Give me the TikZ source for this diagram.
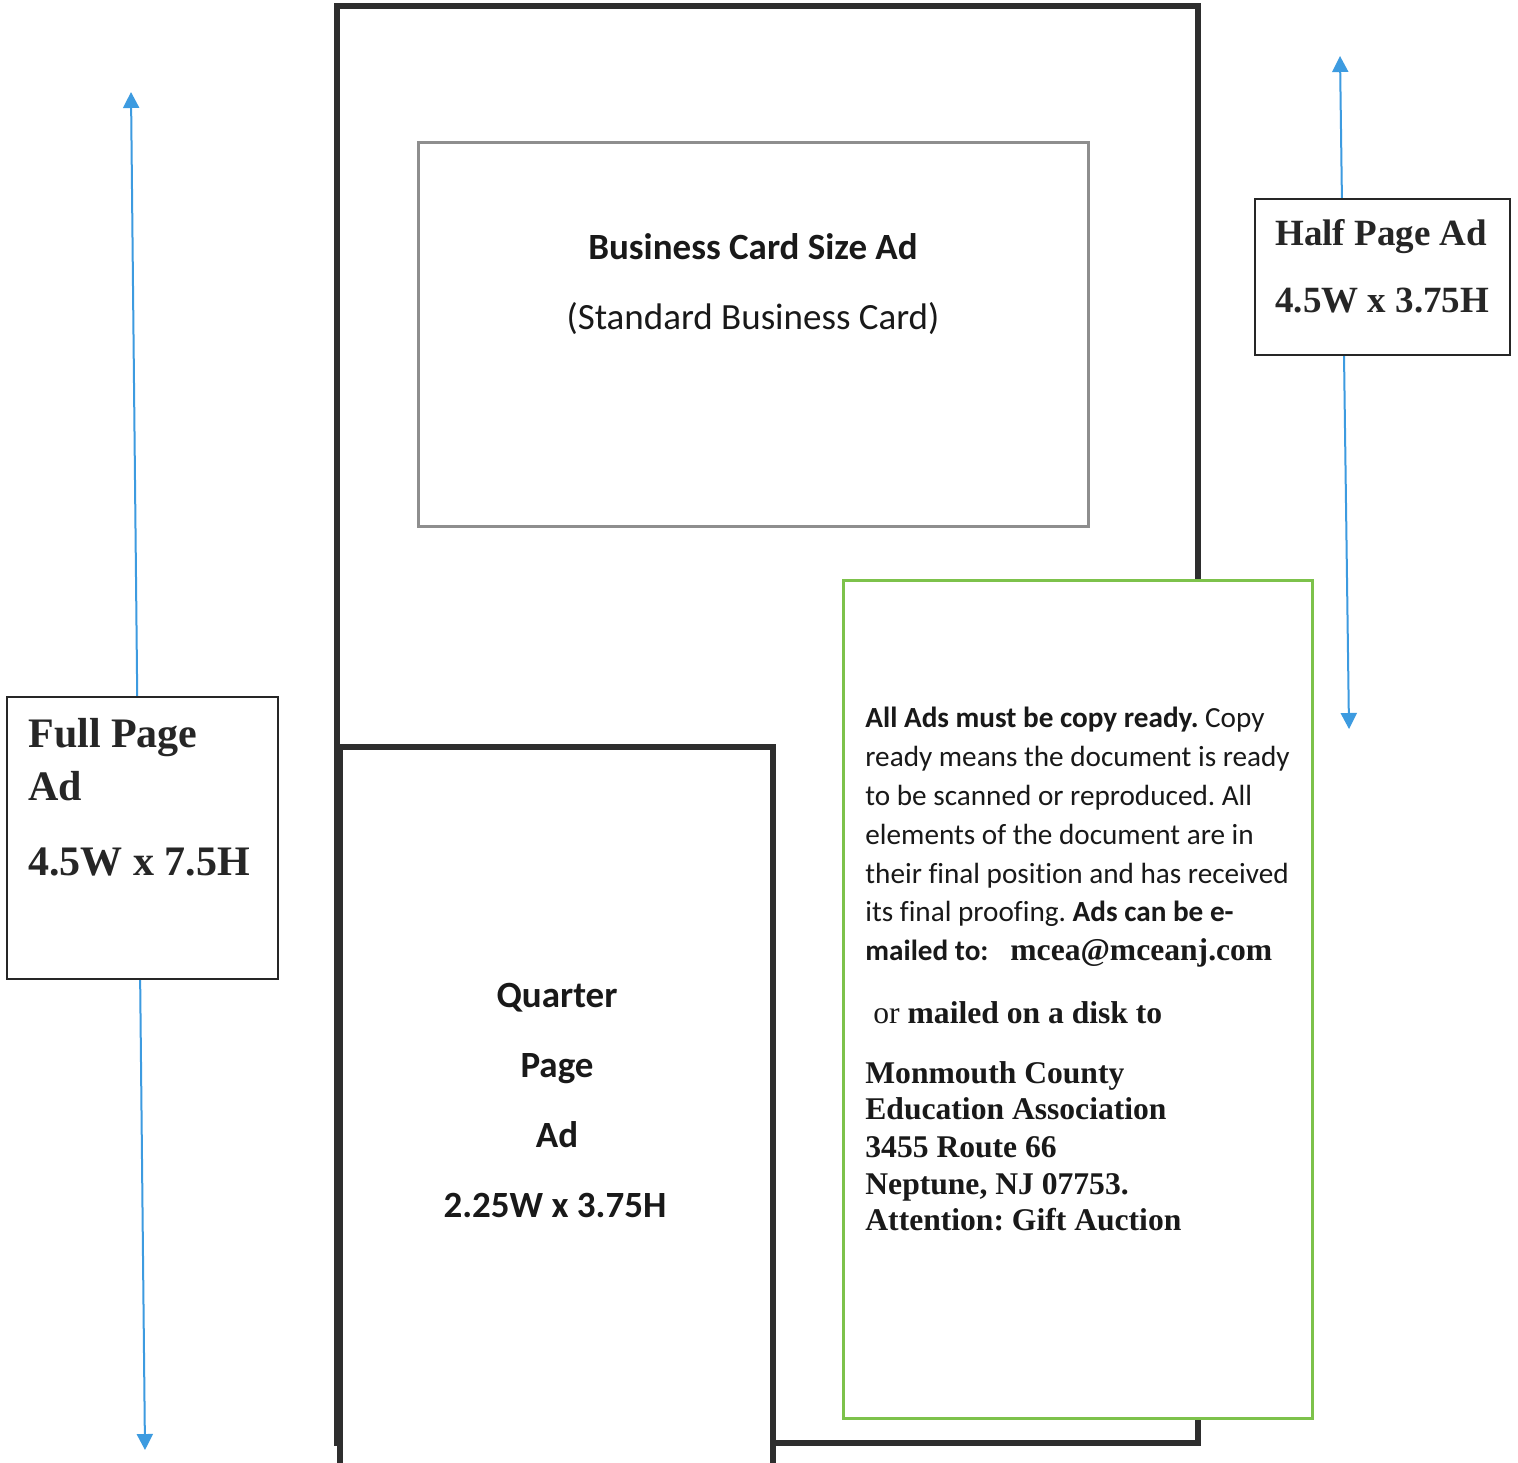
\documentclass[tikz,border=0pt]{standalone}
\usepackage{fontspec}
\setmainfont{Liberation Serif}
\newfontfamily\calfont[Ligatures=NoCommon]{Carlito}
\usetikzlibrary{arrows.meta}
\definecolor{frame}{HTML}{2E2E2E}
\definecolor{cardgray}{HTML}{8E8E8E}
\definecolor{adgreen}{HTML}{7DC24B}
\definecolor{arrowblue}{HTML}{3D9BE0}
\frenchspacing
\tikzset{
  dimarrow/.style={draw=arrowblue, line width=1pt, {Triangle[length=8pt,width=8pt]}-{Triangle[length=8pt,width=8pt]}},
  labelbox/.style={draw=black!85, line width=1.1pt, fill=white},
  serifbig/.style={font=\bfseries\fontsize{21}{25}\selectfont, text=black!85, inner sep=0pt, anchor=base west},
  serifmid/.style={font=\bfseries\fontsize{18.5}{22}\selectfont, text=black!85, inner sep=0pt, anchor=base west},
  calbig/.style={font=\calfont\fontsize{18.5}{22}\selectfont, text=black!90, inner sep=0pt, anchor=base},
  calsmall/.style={font=\calfont\fontsize{14.6}{18}\selectfont, text=black!90, inner sep=0pt, anchor=base west},
  addr/.style={font=\bfseries\fontsize{15.8}{18}\selectfont, text=black!90, inner sep=0pt, anchor=base west}
}
\begin{document}
\begin{tikzpicture}[x=0.5pt,y=-0.5pt]
\useasboundingbox (0,0) rectangle (1518,1462);
\clip (0,0) rectangle (1518,1462);
\fill[white] (0,0) rectangle (1518,1462);
% full page outline
\draw[draw=frame, line width=3pt] (337,6) rectangle (1198,1443);
% business card box
\draw[draw=cardgray, line width=1.5pt] (418,142) rectangle (1088,526);
\node[calbig] (bc1) at (753,259) {\bfseries Business Card Size Ad};
\node[calbig] (bc2) at (753,329) {(Standard Business Card)};
% dimension arrows
\coordinate (ftop) at (131,92);
\coordinate (fbot) at (145,1450);
\coordinate (htop) at (1340,56);
\coordinate (hbot) at (1349,729);
\draw[dimarrow] (ftop) -- (fbot);
\draw[dimarrow] (htop) -- (hbot);
% quarter page box
\draw[draw=frame, line width=3pt, fill=white] (340,747) rectangle (773,1475);
\node[calbig] (q1) at (557,1007) {\bfseries Quarter};
\node[calbig] (q2) at (557,1077) {\bfseries Page};
\node[calbig] (q3) at (557,1147) {\bfseries Ad};
\node[calbig] (q4) at (555,1217) {\bfseries 2.25W x 3.75H};
% green info box
\draw[draw=adgreen, line width=1.5pt, fill=white] (843,580) rectangle (1312,1418);
\node[calsmall] (g1) at (865,727) {\bfseries All Ads must be copy ready.\mdseries{} Copy};
\node[calsmall] (g2) at (865,766) {ready means the document is ready};
\node[calsmall] (g3) at (865,805) {to be scanned or reproduced. All};
\node[calsmall] (g4) at (865,844) {elements of the document are in};
\node[calsmall] (g5) at (865,883) {their final position and has received};
\node[calsmall] (g6) at (865,921) {its final proofing. \bfseries Ads can be e-};
\node[calsmall] (g7) at (865,960) {\bfseries mailed to:};
\node[addr] (mail) at (1010,960) {mcea@mceanj.com};
\node[addr] (or) at (873,1023) {\mdseries or \bfseries mailed on a disk to};
\node[addr] (a1) at (865,1083) {Monmouth County};
\node[addr] (a2) at (865,1119) {Education Association};
\node[addr] (a3) at (865,1157) {3455 Route 66};
\node[addr] (a4) at (865,1194) {Neptune, NJ 07753.};
\node[addr] (a5) at (865,1230) {Attention: Gift Auction};
% full page label
\draw[labelbox] (7,697) rectangle (278,979);
\node[serifbig] (f1) at (28,747) {Full Page};
\node[serifbig] (f2) at (28,800) {Ad};
\node[serifbig] (f3) at (28,875) {4.5W x 7.5H};
% half page label
\draw[labelbox] (1255,199) rectangle (1510,355);
\node[serifmid] (h1) at (1275,245) {Half Page Ad};
\node[serifmid] (h2) at (1275,312) {4.5W x 3.75H};
\end{tikzpicture}
\end{document}
